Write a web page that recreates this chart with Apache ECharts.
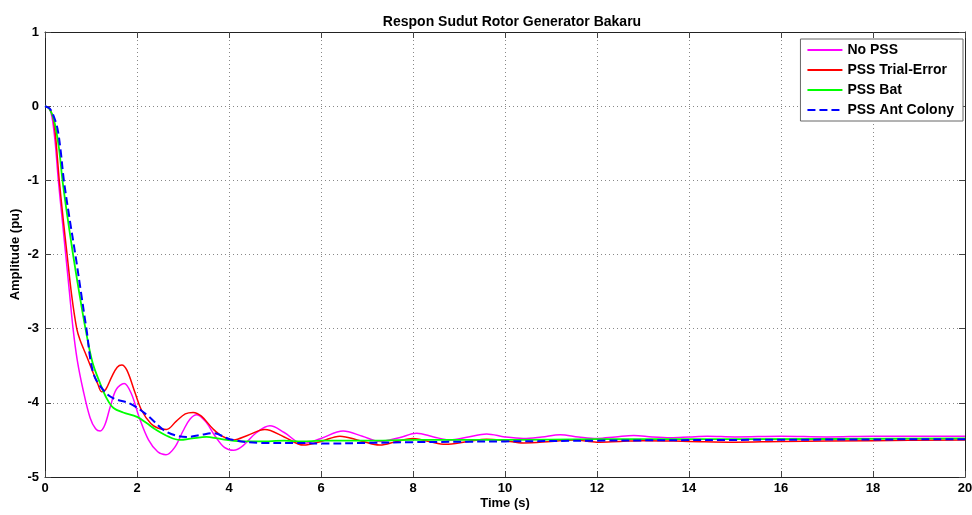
<!DOCTYPE html>
<html>
<head>
<meta charset="utf-8">
<script src="https://cdn.jsdelivr.net/npm/echarts@6/dist/echarts.min.js"></script>
<style>html,body{margin:0;padding:0;background:#fff}#c{width:972px;height:515px}</style>
</head>
<body>
<div id="c"></div>
<script>
var chartTitle = "Respon Sudut Rotor Generator Bakaru";
var xLabel = "Time (s)";
var yLabel = "Amplitude (pu)";
var seriesNames = ["No PSS", "PSS Trial-Error", "PSS Bat", "PSS Ant Colony"];

var tNoPSS = [0,0.08,0.15,0.22,0.29,0.37,0.45,0.53,0.61,0.7,0.83,0.98,1.1,1.2,1.3,1.42,1.55,1.72,1.88,2.05,2.25,2.45,2.63,2.82,3.0,3.15,3.3,3.5,3.7,3.9,4.1,4.3,4.6,4.89,5.2,5.6,6.0,6.48,6.9,7.28,7.7,8.08,8.45,8.8,9.2,9.6,10.0,10.4,10.8,11.2,11.6,12.0,12.4,12.8,13.2,13.6,14.0,14.4,15,16,17,18,20];
var vNoPSS = [0,-0.02,-0.14,-0.48,-1.0,-1.5,-2.0,-2.5,-3.0,-3.42,-3.83,-4.2,-4.35,-4.38,-4.3,-4.05,-3.82,-3.74,-3.88,-4.2,-4.5,-4.66,-4.70,-4.6,-4.38,-4.22,-4.16,-4.26,-4.45,-4.6,-4.64,-4.58,-4.4,-4.31,-4.4,-4.55,-4.48,-4.38,-4.45,-4.52,-4.47,-4.41,-4.46,-4.50,-4.46,-4.42,-4.46,-4.48,-4.46,-4.43,-4.46,-4.48,-4.46,-4.44,-4.46,-4.47,-4.46,-4.45,-4.46,-4.45,-4.46,-4.45,-4.45];

var tTrial = [0,0.08,0.16,0.22,0.27,0.31,0.4,0.48,0.58,0.69,0.76,0.91,1.05,1.15,1.23,1.32,1.45,1.57,1.67,1.78,1.95,2.1,2.3,2.45,2.64,2.85,3.05,3.22,3.4,3.65,3.85,4.1,4.4,4.78,5.2,5.62,6.0,6.41,6.85,7.28,7.65,8.0,8.35,8.7,9.2,9.6,10.0,10.4,11,11.5,12,12.5,13,14,15,16,18,20];
var vTrial = [0,-0.02,-0.12,-0.35,-0.7,-1.0,-1.55,-2.0,-2.55,-3.0,-3.15,-3.38,-3.6,-3.75,-3.85,-3.82,-3.65,-3.52,-3.49,-3.56,-3.85,-4.1,-4.28,-4.34,-4.36,-4.25,-4.15,-4.13,-4.18,-4.35,-4.45,-4.50,-4.44,-4.36,-4.46,-4.57,-4.52,-4.45,-4.51,-4.57,-4.52,-4.48,-4.52,-4.56,-4.52,-4.49,-4.51,-4.54,-4.52,-4.50,-4.53,-4.52,-4.51,-4.52,-4.53,-4.52,-4.51,-4.50];

var tBat = [0,0.1,0.2,0.3,0.38,0.49,0.61,0.74,0.88,1.03,1.2,1.35,1.49,1.7,2.0,2.2,2.43,2.7,2.93,3.2,3.51,3.75,3.95,4.3,4.67,5.2,5.6,6,7,8,10,12,15,20];
var vBat = [0,-0.04,-0.2,-0.55,-1.0,-1.5,-2.0,-2.5,-3.0,-3.45,-3.74,-3.95,-4.07,-4.13,-4.19,-4.27,-4.37,-4.46,-4.50,-4.48,-4.46,-4.48,-4.50,-4.52,-4.52,-4.51,-4.52,-4.51,-4.51,-4.50,-4.50,-4.49,-4.49,-4.48];

var tAnt = [0,0.1,0.18,0.27,0.34,0.41,0.53,0.66,0.78,0.9,1.05,1.27,1.49,1.85,2.21,2.64,3.08,3.4,3.66,4.02,4.67,5.5,6,7,8,10,12,15,20];
var vAnt = [0,-0.03,-0.12,-0.3,-0.6,-1.0,-1.5,-2.0,-2.5,-3.0,-3.6,-3.83,-3.94,-4.01,-4.16,-4.39,-4.46,-4.43,-4.41,-4.49,-4.54,-4.54,-4.55,-4.54,-4.53,-4.52,-4.51,-4.50,-4.49];

var xTicks = [0,2,4,6,8,10,12,14,16,18,20];
var yTicks = [-5,-4,-3,-2,-1,0,1];

function pairs(t, v) { return t.map(function (x, i) { return [x, v[i]]; }); }

var font = '"Liberation Sans", Arial, sans-serif';
var chart = echarts.init(document.getElementById('c'));
var gridLine = { show: true, lineStyle: { color: '#888', type: [1, 3], width: 1 } };
var axisCommon = {
  axisLine: { show: true, onZero: false, lineStyle: { color: '#222', width: 1 } },
  axisTick: { show: true, inside: true, length: 6, lineStyle: { color: '#444' } },
  axisLabel: { color: '#000', fontWeight: 'bold', fontSize: 13, fontFamily: font }
};
chart.setOption({
  animation: false,
  backgroundColor: '#fff',
  title: {
    text: chartTitle, left: 507, top: 10, textAlign: 'center',
    textStyle: { fontSize: 14, fontWeight: 'bold', color: '#000', fontFamily: font }
  },
  legend: {
    orient: 'vertical', right: 9, top: 39,
    backgroundColor: '#fff', borderColor: '#666', borderWidth: 1,
    padding: [4, 9, 4, 6], itemGap: 6, itemWidth: 35, itemHeight: 14,
    itemStyle: { opacity: 0 },
    textStyle: { fontSize: 14, fontWeight: 'bold', color: '#000', fontFamily: font },
    data: seriesNames
  },
  grid: { left: 45, right: 7, top: 32, bottom: 38, containLabel: false, outerBoundsMode: 'none' },
  xAxis: [
    Object.assign({
      type: 'value', min: 0, max: 20, interval: 2,
      name: xLabel, nameLocation: 'middle', nameGap: 20, nameMoveOverlap: false,
      nameTextStyle: { fontSize: 13, fontWeight: 'bold', color: '#000', fontFamily: font },
      splitLine: gridLine
    }, axisCommon, { axisLabel: Object.assign({}, axisCommon.axisLabel, { margin: 5 }) }),
    Object.assign({ type: 'value', min: 0, max: 20, interval: 2, position: 'top', splitLine: { show: false } }, axisCommon, { axisLabel: { show: false } })
  ],
  yAxis: [
    Object.assign({
      type: 'value', min: -5, max: 1, interval: 1,
      name: yLabel, nameLocation: 'middle', nameGap: 23, nameRotate: 90, nameMoveOverlap: false,
      nameTextStyle: { fontSize: 13, fontWeight: 'bold', color: '#000', fontFamily: font },
      splitLine: gridLine
    }, axisCommon, { axisLabel: Object.assign({}, axisCommon.axisLabel, { margin: 6 }) }),
    Object.assign({ type: 'value', min: -5, max: 1, interval: 1, position: 'right', splitLine: { show: false } }, axisCommon, { axisLabel: { show: false } })
  ],
  series: [
    { name: seriesNames[0], type: 'line', data: pairs(tNoPSS, vNoPSS), smooth: 0.35, symbol: 'none', color: '#ff00ff', lineStyle: { width: 1.5, color: '#ff00ff' }, z: 2 },
    { name: seriesNames[1], type: 'line', data: pairs(tTrial, vTrial), smooth: 0.35, symbol: 'none', color: '#ff0000', lineStyle: { width: 1.5, color: '#ff0000' }, z: 3 },
    { name: seriesNames[2], type: 'line', data: pairs(tBat, vBat), smooth: 0.35, symbol: 'none', color: '#00ff00', lineStyle: { width: 1.8, color: '#00ff00' }, z: 4 },
    { name: seriesNames[3], type: 'line', data: pairs(tAnt, vAnt), smooth: 0.35, symbol: 'none', color: '#0000ff', lineStyle: { width: 2, color: '#0000ff', type: [8, 4] }, z: 5 }
  ]
});
</script>
</body>
</html>
